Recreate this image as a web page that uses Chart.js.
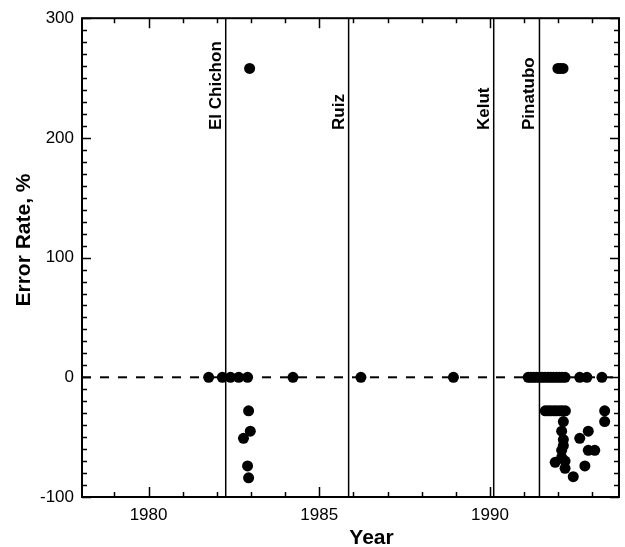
<!DOCTYPE html>
<html>
<head>
<meta charset="utf-8">
<script src="https://cdn.jsdelivr.net/npm/chart.js@4/dist/chart.umd.min.js"></script>
<style>
  html, body { margin: 0; padding: 0; background: #fff; }
  #wrap { width: 625px; height: 547px; }
</style>
</head>
<body>
<div id="wrap"><canvas id="errChart" width="625" height="547"></canvas></div>
<script>
const xLabelYears = [1980, 1985, 1990];
const yLabelValues = [-100, 0, 100, 200, 300];
const xRange = [1978.05, 1993.78];
const yRange = [-100, 300];

const volcanoNames = ['El Chichon', 'Ruiz', 'Kelut', 'Pinatubo'];
const volcanoYears = [1982.26, 1985.86, 1990.11, 1991.45];

// observations: year and error rate (%)
const obsYears = [
    1981.76, 1982.16, 1982.40, 1982.64, 1982.90,
    1982.93, 1982.98, 1982.78, 1982.90, 1982.93, 1982.96,
    1984.23, 1986.22, 1988.93,
    1991.12, 1991.20, 1991.28, 1991.36, 1991.45, 1991.53, 1991.61, 1991.70,
    1991.78, 1991.86, 1991.95, 1992.03, 1992.11, 1992.20, 1992.63, 1992.84, 1993.28,
    1991.99, 1992.06, 1992.14,
    1991.62, 1991.70, 1991.78, 1991.87, 1991.95, 1992.04, 1992.12, 1992.21,
    1993.36, 1993.36,
    1992.15, 1992.10, 1992.15, 1992.15, 1992.10, 1992.10, 1991.91, 1992.20, 1992.20, 1992.44,
    1992.88, 1992.63, 1993.07, 1992.88, 1992.78
];
const obsErrors = [
    0, 0, 0, 0, 0,
    -28, -45, -51, -74, -84, 258,
    0, 0, 0,
    0, 0, 0, 0, 0, 0, 0, 0,
    0, 0, 0, 0, 0, 0, 0, 0, 0,
    258, 258, 258,
    -28, -28, -28, -28, -28, -28, -28, -28,
    -28, -37,
    -37, -45, -52, -57, -61, -67, -71, -70, -76, -83,
    -45, -51, -61, -61, -74
];

const fontFamily = '"Liberation Sans", Arial, Helvetica, sans-serif';

const framePlugin = {
    id: 'frame',
    afterDraw(chart) {
        const { ctx, chartArea: a, scales: { x, y } } = chart;
        ctx.save();
        ctx.strokeStyle = '#000';
        ctx.lineWidth = 2;
        ctx.strokeRect(a.left, a.top, a.right - a.left, a.bottom - a.top);

        // inward ticks on all four sides
        ctx.lineWidth = 1.5;
        ctx.beginPath();
        for (let v = Math.ceil(x.min); v <= x.max; v++) {
            const px = Math.round(x.getPixelForValue(v)) + 0.5;
            const len = v % 5 === 0 ? 10 : 5;
            ctx.moveTo(px, a.bottom); ctx.lineTo(px, a.bottom - len);
            ctx.moveTo(px, a.top); ctx.lineTo(px, a.top + len);
        }
        for (let v = y.min; v <= y.max; v += 10) {
            const py = Math.round(y.getPixelForValue(v)) + 0.5;
            const len = v % 100 === 0 ? 9 : 5;
            ctx.moveTo(a.left, py); ctx.lineTo(a.left + len, py);
            ctx.moveTo(a.right, py); ctx.lineTo(a.right - len, py);
        }
        ctx.stroke();

        // volcano names, rotated, just left of each line
        ctx.fillStyle = '#000';
        ctx.font = 'bold 17px ' + fontFamily;
        ctx.textAlign = 'left';
        ctx.textBaseline = 'alphabetic';
        volcanoYears.forEach((yr, i) => {
            const px = x.getPixelForValue(yr);
            ctx.save();
            ctx.translate(px - 5, 130);
            ctx.rotate(-Math.PI / 2);
            ctx.fillText(volcanoNames[i], 0, 0);
            ctx.restore();
        });

        // axis titles
        ctx.textAlign = 'center';
        ctx.textBaseline = 'middle';
        ctx.font = 'bold 21px ' + fontFamily;
        ctx.fillText('Year', (a.left + a.right) / 2 + 21, 538);
        ctx.save();
        ctx.translate(24, 240);
        ctx.rotate(-Math.PI / 2);
        ctx.fillText('Error Rate, %', 0, 0);
        ctx.restore();
        ctx.restore();
    }
};

const points = obsYears.map((yr, i) => ({ x: yr, y: obsErrors[i] }));

const volcanoSets = volcanoYears.map(yr => ({
    type: 'line',
    data: [{ x: yr, y: yRange[0] }, { x: yr, y: yRange[1] }],
    borderColor: '#000',
    borderWidth: 1.5,
    pointRadius: 0
}));

const ctx = document.getElementById('errChart').getContext('2d');
new Chart(ctx, {
    type: 'scatter',
    data: {
        datasets: [
            {
                data: points,
                backgroundColor: '#000',
                borderWidth: 0,
                pointRadius: 5.5
            },
            {
                type: 'line',
                data: [{ x: xRange[0], y: 0 }, { x: xRange[1], y: 0 }],
                borderColor: '#000',
                borderWidth: 2,
                borderDash: [9, 9],
                pointRadius: 0
            },
            ...volcanoSets
        ]
    },
    options: {
        responsive: false,
        animation: false,
        devicePixelRatio: 1,
        layout: { padding: { top: 12, right: 6, left: 0, bottom: 0 } },
        plugins: { legend: { display: false }, tooltip: { enabled: false } },
        scales: {
            x: {
                type: 'linear',
                min: xRange[0],
                max: xRange[1],
                grid: { display: false, drawTicks: false },
                border: { display: false },
                afterBuildTicks: s => { s.ticks = xLabelYears.map(v => ({ value: v })); },
                afterFit: s => { s.height = 50; },
                ticks: {
                    padding: 8,
                    color: '#000',
                    font: { family: fontFamily, size: 17 },
                    callback: v => String(v)
                }
            },
            y: {
                min: yRange[0],
                max: yRange[1],
                grid: { display: false, drawTicks: false },
                border: { display: false },
                afterBuildTicks: s => { s.ticks = yLabelValues.map(v => ({ value: v })); },
                afterFit: s => { s.width = 82; },
                ticks: {
                    padding: 8,
                    color: '#000',
                    font: { family: fontFamily, size: 17 },
                    callback: v => String(v)
                }
            }
        }
    },
    plugins: [framePlugin]
});
</script>
</body>
</html>
